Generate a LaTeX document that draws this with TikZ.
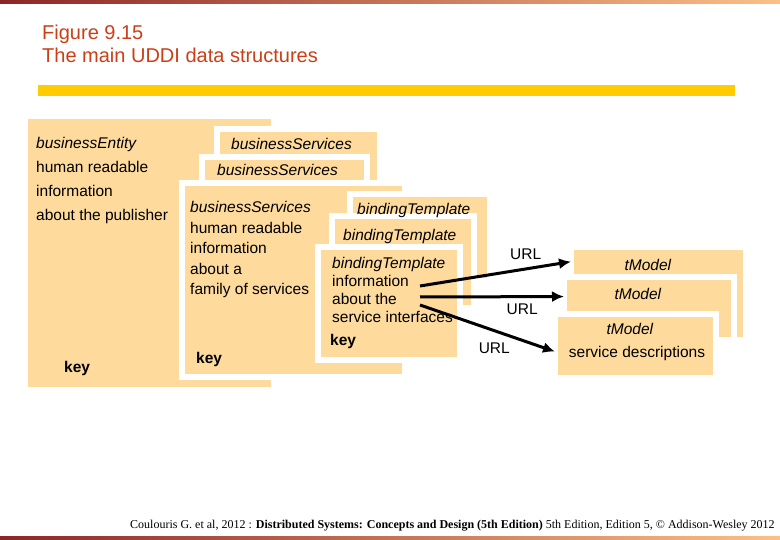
\documentclass[tikz,border=0pt]{standalone}
\usepackage{fontspec}
\setmainfont{Liberation Sans}
\newfontfamily\footfont{Liberation Serif}
\usetikzlibrary{arrows.meta}
\definecolor{boxfill}{RGB}{254,218,156}
\definecolor{titlered}{RGB}{204,62,24}
\definecolor{barred}{RGB}{140,38,38}
\definecolor{barorange}{RGB}{250,128,20}
\definecolor{barlight}{RGB}{252,192,135}
\definecolor{baryellow}{RGB}{255,204,0}
\begin{document}
\begin{tikzpicture}[x=1pt,y=-1pt,>={Latex[length=12pt,width=11pt]},
	box/.style={fill=boxfill,draw=none,anchor=north west,outer sep=0pt,inner sep=0pt},
	stacked/.style={box,draw=white,line width=6pt},
	txt/.style={anchor=base west,inner sep=0pt,align=left,font=\fontsize{15.5}{20}\selectfont},
	keytxt/.style={txt,font=\fontsize{15.5}{20}\selectfont\bfseries},
	mtxt/.style={txt,anchor=base},
	lbl/.style={inner sep=0pt,font=\fontsize{15.5}{20}\selectfont},
	url/.style={->,line width=3pt}]
	\useasboundingbox (0,0) rectangle (780,540);
	\shade[left color=barred,middle color=barorange,right color=barlight] (0,0) rectangle (780,4);
	\shade[left color=barred,middle color=barorange,right color=barlight] (0,536) rectangle (780,540);
	\fill[baryellow] (38,85) rectangle (735,96);
	
	\node[txt,font=\fontsize{20}{24}\selectfont,text=titlered] (fignum) at (42,40) {Figure 9.15};
	\node[txt,font=\fontsize{20}{24}\selectfont,text=titlered] (figtitle) at (42,63) {The main UDDI data structures};
	
	\node[box,minimum width=243,minimum height=268] (entity) at (28,119) {};
	\node[stacked,minimum width=163,minimum height=174] (servA) at (217,129) {};
	\node[stacked,minimum width=165,minimum height=146] (servB) at (202,157) {};
	\node[stacked,minimum width=223,minimum height=194] (servC) at (182,183) {};
	\node[stacked,minimum width=140,minimum height=87] (bindA) at (350,194) {};
	\node[stacked,minimum width=142,minimum height=92] (bindB) at (332,216) {};
	\node[stacked,minimum width=142,minimum height=113] (bindC) at (318,247) {};
	\node[stacked,minimum width=175,minimum height=93] (tmodA) at (571,247) {};
	\node[stacked,minimum width=170,minimum height=63] (tmodB) at (564,277) {};
	\node[stacked,minimum width=161,minimum height=64] (tmodC) at (555,314) {};
	
	% multi-line texts sit on the baseline of their last line
	\node[txt,font=\fontsize{15.5}{24.3}\selectfont] (entitytxt) at (36,221)
		{\textit{businessEntity}\\human readable\\information\\about the publisher};
	\node[keytxt] (entitykey) at (64,373) {key};
	\node[txt] (servAtxt) at (231,149.5) {\textit{businessServices}};
	\node[txt] (servBtxt) at (217,175.5) {\textit{businessServices}};
	\node[txt,font=\fontsize{15.5}{20.5}\selectfont] (servCtxt) at (190,294.5)
		{\textit{businessServices}\\human readable\\information\\about a\\family of services};
	\node[keytxt] (servCkey) at (196,363) {key};
	\node[txt] (bindAtxt) at (357,215) {\textit{bindingTemplate}};
	\node[txt] (bindBtxt) at (343,241) {\textit{bindingTemplate}};
	\node[txt,font=\fontsize{15.5}{18}\selectfont] (bindCtxt) at (332,323)
		{\textit{bindingTemplate}\\information\\about the\\service interfaces};
	\node[keytxt] (bindCkey) at (330,345) {key};
	\node[mtxt] (tmodAtxt) at (648,271) {\textit{tModel}};
	\node[mtxt] (tmodBtxt) at (638,299.5) {\textit{tModel}};
	\node[mtxt] (tmodCtxt) at (630,334.5) {\textit{tModel}};
	\node[mtxt] (tmodCdesc) at (637,358) {service descriptions};
	
	\coordinate (srcA) at (420,286);
	\coordinate (srcB) at (420,297);
	\coordinate (srcC) at (420,305);
	\path[url] (srcA) edge node[lbl,pos=0.7,above=7.6pt] {URL} (tmodA.160);
	\path[url] (srcB) edge node[lbl,pos=0.71,below=5.5pt] {URL} (tmodB.172);
	\path[url] (srcC) edge node[lbl,pos=0.55,below=10.5pt] {URL} (tmodC.184);
	
	\node[anchor=base west,inner sep=0pt,font=\footfont\fontsize{12}{14}\selectfont] (credit) at (130,528)
		{Coulouris G. et al, 2012 : \textbf{Distributed Systems: Concepts and Design (5th Edition)} 5th Edition, Edition 5, © Addison-Wesley 2012};
\end{tikzpicture}
\end{document}
